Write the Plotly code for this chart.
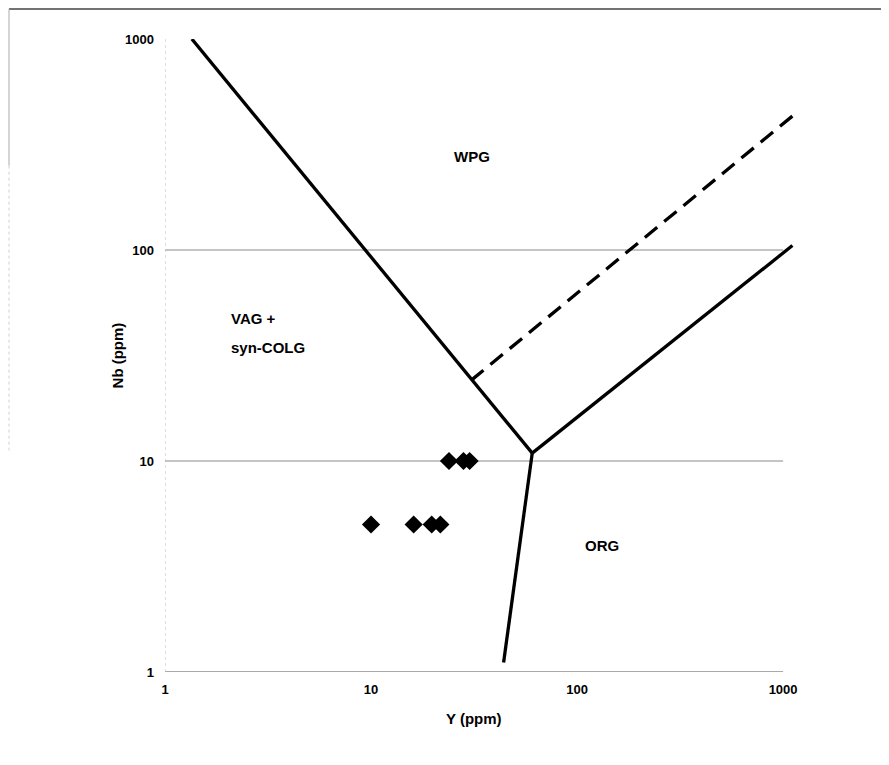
import plotly.graph_objects as go

# Sample data (Y ppm, Nb ppm)
sample_y = [23.9, 28.1, 30.1, 10.0, 16.1, 19.7, 21.7]
sample_nb = [10, 10, 10, 5, 5, 5, 5]

# Discrimination boundaries (Y, Nb)
vag_wpg_y = [1.35, 60.6]
vag_wpg_nb = [1000, 10.9]
org_wpg_y = [60.6, 1110]
org_wpg_nb = [10.9, 105]
vag_org_y = [44.0, 60.6]
vag_org_nb = [1.11, 10.9]
dash_y = [30.6, 1125]
dash_nb = [24.1, 436]

tick_vals = [1, 10, 100, 1000]
tick_text = ["1", "10", "100", "1000"]

FONT = "Liberation Sans, Arial, sans-serif"

fig = go.Figure()
line_style = dict(color="black", width=3.3)
fig.add_trace(go.Scatter(x=vag_wpg_y, y=vag_wpg_nb, mode="lines", line=line_style, showlegend=False))
fig.add_trace(go.Scatter(x=org_wpg_y, y=org_wpg_nb, mode="lines", line=line_style, showlegend=False))
fig.add_trace(go.Scatter(x=vag_org_y, y=vag_org_nb, mode="lines", line=line_style, showlegend=False))
fig.add_trace(go.Scatter(x=dash_y, y=dash_nb, mode="lines",
                         line=dict(color="black", width=3.3, dash="16px,9px"), showlegend=False))
fig.add_trace(go.Scatter(x=sample_y, y=sample_nb, mode="markers",
                         marker=dict(symbol="diamond", size=14, color="black"),
                         showlegend=False, cliponaxis=False))

shapes = []
# horizontal gridlines at Nb = 10 and 100
for g in [10, 100]:
    shapes.append(dict(type="line", xref="x", yref="y", x0=1, x1=1000, y0=g, y1=g,
                       line=dict(color="#8a8a8a", width=1), layer="below"))
# bottom axis line
shapes.append(dict(type="line", xref="x", yref="y", x0=1, x1=1000, y0=1, y1=1,
                   line=dict(color="#555555", width=1.2), layer="below"))
# left axis line (faint dotted)
shapes.append(dict(type="line", xref="x", yref="y", x0=1, x1=1, y0=1, y1=1000,
                   line=dict(color="#bbbbbb", width=1, dash="dot"), layer="below"))
# outer scan frame (top and left)
shapes.append(dict(type="line", xref="paper", yref="paper", x0=-0.248, x1=1.2, y0=1.0474, y1=1.0474,
                   line=dict(color="#444444", width=1.5)))
shapes.append(dict(type="line", xref="paper", yref="paper", x0=-0.248, x1=-0.248, y0=1.0474, y1=0.80,
                   line=dict(color="#aaaaaa", width=1)))
shapes.append(dict(type="line", xref="paper", yref="paper", x0=-0.248, x1=-0.248, y0=0.80, y1=0.35,
                   line=dict(color="#d0d0d0", width=1, dash="dot")))

lab_font = dict(family=FONT, size=15, color="black", weight="bold")
annotations = [
    dict(text="WPG", x=1.491, y=2.441, xref="x", yref="y", showarrow=False, font=lab_font),
    dict(text="ORG", x=2.122, y=0.600, xref="x", yref="y", showarrow=False, font=lab_font),
    dict(text="VAG +", x=0.311, y=1.677, xref="x", yref="y", showarrow=False, xanchor="left", font=lab_font),
    dict(text="syn-COLG", x=0.311, y=1.539, xref="x", yref="y", showarrow=False, xanchor="left", font=lab_font),
    dict(text="Y (ppm)", x=1.5, y=-0.0735, xref="x", yref="paper", showarrow=False,
         xanchor="center", yanchor="middle", font=lab_font),
    dict(text="Nb (ppm)", x=-0.0748, y=1.5, xref="paper", yref="y", showarrow=False,
         xanchor="center", yanchor="middle", textangle=-90, font=lab_font),
]

fig.update_layout(
    width=889, height=765,
    margin=dict(l=157, r=103, t=31, b=101),
    paper_bgcolor="white", plot_bgcolor="white",
    shapes=shapes, annotations=annotations,
    font=dict(family=FONT, color="black"),
    xaxis=dict(type="log", range=[0, 3.053], tickvals=tick_vals, ticktext=tick_text,
               showgrid=False, zeroline=False, showline=False, ticks="",
               ticklabelstandoff=8,
               tickfont=dict(family=FONT, size=13, color="black", weight="bold")),
    yaxis=dict(type="log", range=[0, 3], tickvals=tick_vals, ticktext=tick_text,
               showgrid=False, zeroline=False, showline=False, ticks="",
               ticklabelstandoff=10,
               tickfont=dict(family=FONT, size=13, color="black", weight="bold")),
)

fig.write_html("out.html")
